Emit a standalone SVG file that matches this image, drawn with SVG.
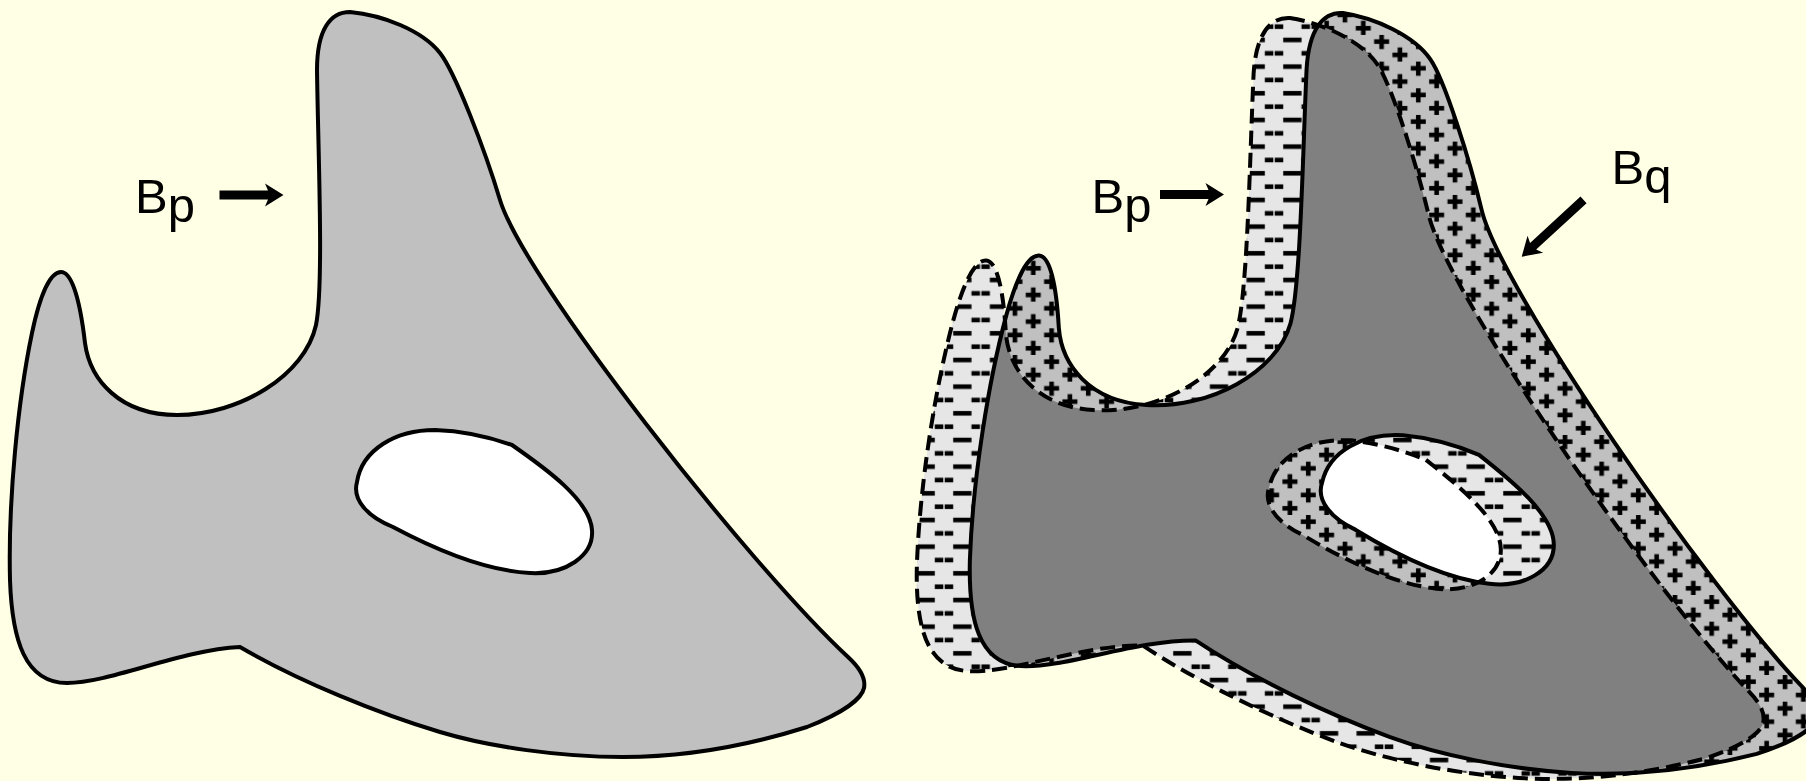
<svg xmlns="http://www.w3.org/2000/svg" xmlns:xlink="http://www.w3.org/1999/xlink" width="1806" height="781" viewBox="0 0 1806 781">
<style>
.solid{fill:none;stroke:#000;stroke-width:4;stroke-linejoin:round}
.dashed{fill:none;stroke:#000;stroke-width:4;stroke-dasharray:15 7}
.lbl{font-family:"Liberation Sans",Arial,sans-serif;font-size:49px;fill:#000}
.arrow{fill:#000;stroke:none}
</style>
<defs>
<path id="outer" d="M 350 12 C 382 15 422 30 440 53 C 455 72 485 150 500 200 C 524 279 748 564 848 657 C 860 668 866 678 864 688 C 862 698 845 712 807 727 C 750 745 690 757 623 757 C 560 757 490 747 440 732 C 380 714 300 682 240 647 C 180 650 110 683 67 683 C 25 683 12 640 10 580 C 8 500 18 400 32 333 C 40 295 50 272 61 272 C 72 272 80 300 85 343 C 90 380 120 415 177 415 C 240 415 305 375 316 325 C 324 285 318 150 317 70 C 317 30 330 12 350 12 Z"/>
<path id="hole" d="M 512 445 C 545 468 590 500 592 530 C 594 556 565 575 530 573 C 490 571 440 552 393 527 C 368 517 352 500 357 482 C 362 450 395 430 435 430 C 465 431 495 439 512 445 Z"/>
<pattern id="minus" patternUnits="userSpaceOnUse" x="944" y="420" width="36.67" height="26.67">
<rect width="36.67" height="26.67" fill="#e6e6e6"/>
<rect x="0.7" y="4.4" width="8.5" height="4.6" fill="#000"/>
<rect x="27.47" y="4.4" width="8.5" height="4.6" fill="#000"/>
<rect x="9.17" y="17.7" width="18.33" height="4.6" fill="#000"/>
</pattern>
<pattern id="plus" patternUnits="userSpaceOnUse" x="1445.8" y="248.3" width="36.67" height="26.67">
<rect width="36.67" height="26.67" fill="#c0c0c0"/>
<rect x="1.67" y="4.37" width="15" height="4.6" fill="#000"/>
<rect x="6.87" y="-0.83" width="4.6" height="15" fill="#000"/>
<rect x="20" y="17.7" width="15" height="4.6" fill="#000"/>
<rect x="25.2" y="12.5" width="4.6" height="15" fill="#000"/>
</pattern>
<clipPath id="cpOuter"><use xlink:href="#outer" href="#outer" transform="translate(941.3,-14.7) rotate(3.4)"/></clipPath>
<clipPath id="cqOuter"><use xlink:href="#outer" href="#outer" transform="translate(994.3,-19.7) rotate(3.4)"/></clipPath>
<clipPath id="cpHole"><use xlink:href="#hole" href="#hole" transform="translate(941.3,-14.7) rotate(3.4)"/></clipPath>
<clipPath id="cqHole"><use xlink:href="#hole" href="#hole" transform="translate(994.3,-19.7) rotate(3.4)"/></clipPath>
</defs>
<rect id="background" width="1806" height="781" fill="#ffffe5"/>
<g id="left-shape">
<use xlink:href="#outer" href="#outer" fill="#c0c0c0"/>
<use xlink:href="#hole" href="#hole" fill="#ffffff"/>
<use xlink:href="#outer" href="#outer" class="solid"/>
<use xlink:href="#hole" href="#hole" class="solid"/>
</g>
<g id="right-overlap">
<rect x="880" y="0" width="926" height="781" fill="url(#minus)" clip-path="url(#cpOuter)"/>
<rect x="880" y="0" width="926" height="781" fill="url(#plus)" clip-path="url(#cqOuter)"/>
<g clip-path="url(#cpOuter)"><use xlink:href="#outer" href="#outer" transform="translate(994.3,-19.7) rotate(3.4)" fill="#808080"/></g>
<rect x="880" y="0" width="926" height="781" fill="url(#plus)" clip-path="url(#cpHole)"/>
<rect x="880" y="0" width="926" height="781" fill="url(#minus)" clip-path="url(#cqHole)"/>
<g clip-path="url(#cpHole)"><use xlink:href="#hole" href="#hole" transform="translate(994.3,-19.7) rotate(3.4)" fill="#ffffff"/></g>
</g>
<g id="right-bp" transform="translate(941.3,-14.7) rotate(3.4)">
<use xlink:href="#outer" href="#outer" class="dashed"/>
<use xlink:href="#hole" href="#hole" class="dashed"/>
</g>
<g id="right-bq" transform="translate(994.3,-19.7) rotate(3.4)">
<use xlink:href="#outer" href="#outer" class="solid"/>
<use xlink:href="#hole" href="#hole" class="solid"/>
</g>
<g id="labels">
<text class="lbl" x="135" y="212.7">B<tspan dy="9">p</tspan></text>
<text class="lbl" x="1091.5" y="212.7">B<tspan dy="9">p</tspan></text>
<text class="lbl" x="1611.5" y="184">B<tspan dy="9.3">q</tspan></text>
</g>
<g id="connectors">
<path class="arrow" transform="translate(283.5,195)" d="M -64 -4.6 H -15.5 L -18.5 -11.5 L 0 0 L -18.5 11.5 L -15.5 4.6 H -64 Z"/>
<path class="arrow" transform="translate(1224,194.5)" d="M -64 -4.6 H -15.5 L -18.5 -11.5 L 0 0 L -18.5 11.5 L -15.5 4.6 H -64 Z"/>
<path class="arrow" transform="translate(1521.7,256.7) rotate(137.4)" d="M -84 -4.5 H -15.5 L -18.5 -11.5 L 0 0 L -18.5 11.5 L -15.5 4.5 H -84 Z"/>
</g>
</svg>
